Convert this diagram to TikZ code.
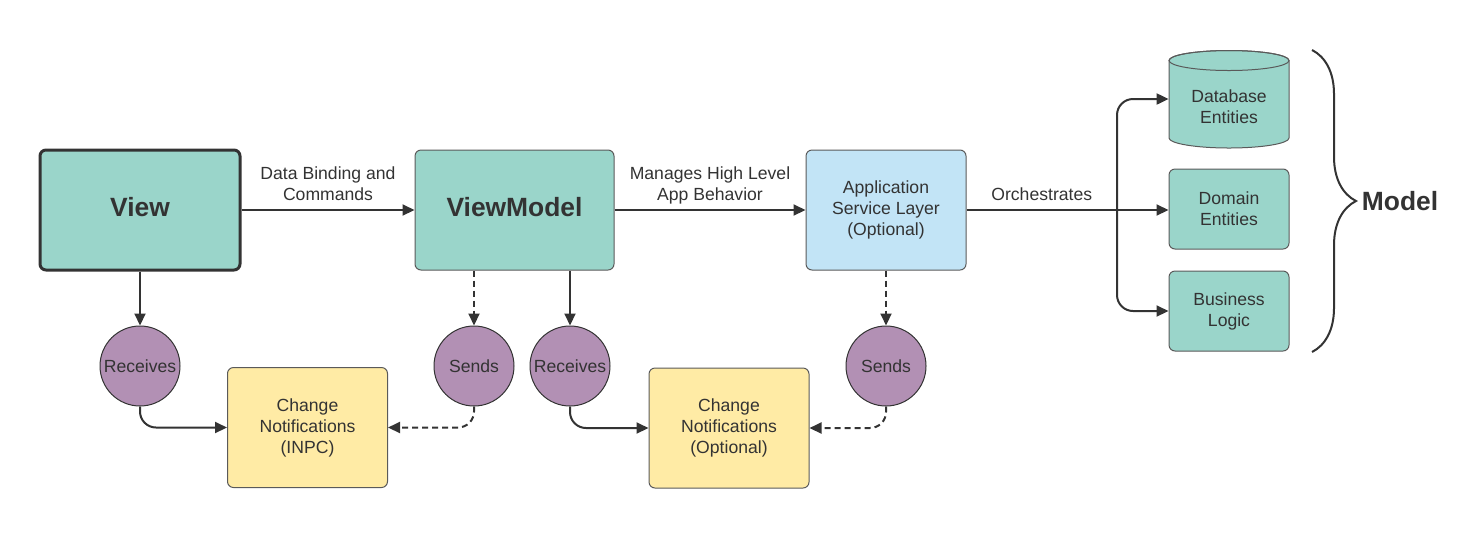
\documentclass[tikz,border=0pt]{standalone}
\usepackage{fontspec}
\setmainfont{Liberation Sans}
\usetikzlibrary{arrows.meta,decorations.pathreplacing}
\definecolor{mvvmTeal}{RGB}{154,213,202}
\definecolor{svcBlue}{RGB}{194,228,246}
\definecolor{noteYellow}{RGB}{255,235,165}
\definecolor{sigPurple}{RGB}{178,144,180}
\definecolor{inkGray}{RGB}{51,51,51}
\definecolor{edgeGray}{RGB}{90,90,90}

\begin{document}
\begin{tikzpicture}
[
    x=0.5pt, y=-0.5pt,
    txt/.style={font=\fontsize{8.8}{10.5}\selectfont, text=inkGray, align=center},
    big/.style={font=\fontsize{13.2}{15}\selectfont\bfseries, text=inkGray},
    viewbox/.style={big, text depth=3.5pt, draw=inkGray, line width=1.5pt, fill=mvvmTeal, rounded corners=3pt, minimum width=100pt, minimum height=60pt},
    vmbox/.style={big, text depth=3.5pt, draw=edgeGray, line width=0.5pt, fill=mvvmTeal, rounded corners=3pt, minimum width=99.5pt, minimum height=60pt},
    svcbox/.style={txt, draw=edgeGray, line width=0.5pt, fill=svcBlue, rounded corners=3pt, minimum width=80pt, minimum height=60pt},
    notebox/.style={txt, draw=edgeGray, line width=0.5pt, fill=noteYellow, rounded corners=3pt, minimum width=80pt, minimum height=60pt},
    entbox/.style={txt, draw=edgeGray, line width=0.5pt, fill=mvvmTeal, rounded corners=3pt, minimum width=60pt, minimum height=40pt},
    circ/.style={txt, circle, draw=inkGray, line width=0.5pt, fill=sigPurple, minimum size=40pt, inner sep=0pt},
    lbl/.style={txt, above=4.5pt, inner sep=0pt, text depth=0pt},
    arr/.style={draw=inkGray, line width=1pt, -{Triangle[length=6pt,width=5.5pt]}},
    darr/.style={arr, dash pattern=on 3pt off 2pt},
    brc/.style={draw=inkGray, line width=1pt, decorate, decoration={brace, amplitude=22pt}},
]
\useasboundingbox (0,0) rectangle (1476,537);

\node [viewbox] (view) at (140,210) {View};
\node [vmbox] (vm) at (514.5,210) {ViewModel};
\node [svcbox] (asl) at (886,210) {Application\\Service Layer\\(Optional)};

\node [circ] (rcv1) at (140,366) {Receives};
\node [circ] (snd1) at (474,366) {Sends};
\node [circ] (rcv2) at (570,366) {Receives};
\node [circ] (snd2) at (886,366) {Sends};

\node [notebox] (cn1) at (307.5,427.5) {Change\\Notifications\\(INPC)};
\node [notebox] (cn2) at (729,428) {Change\\Notifications\\(Optional)};

\node [minimum width=60pt, minimum height=49pt, inner sep=0pt] (db) at (1229,99) {};
\filldraw [fill=mvvmTeal, draw=edgeGray, line width=0.5pt]
    (1169,60.5) -- (1169,138) arc [start angle=180, end angle=360, x radius=30pt, y radius=5pt]
    -- (1289,60.5) arc [start angle=0, end angle=180, x radius=30pt, y radius=5pt] -- cycle;
\draw [draw=edgeGray, line width=0.5pt] (1229,60.5) ellipse [x radius=30pt, y radius=5pt];
\node [txt] (dbtxt) at (1229,107) {Database\\Entities};
\node [entbox] (dom) at (1229,209) {Domain\\Entities};
\node [entbox] (biz) at (1229,311) {Business\\Logic};

\coordinate (br) at (1117,210);

\draw [arr] (view) -- node[lbl]{Data Binding and\\Commands} (vm);
\draw [arr] (vm) -- node[lbl]{Manages High Level\\App Behavior} (asl);
\draw [arr] (asl) -- node[lbl]{Orchestrates} (br) -- (dom.west |- br);
\draw [arr, rounded corners=8pt] (br) |- (db.west);
\draw [arr, rounded corners=8pt] (br) |- (biz);

\draw [arr] (view) -- (rcv1);
\draw [darr] (vm.south -| snd1) -- (snd1);
\draw [arr] (vm.south -| rcv2) -- (rcv2);
\draw [darr] (asl) -- (snd2);

\draw [arr, rounded corners=8pt] (rcv1.south) |- (cn1.west);
\draw [darr, rounded corners=8pt] (snd1.south) |- (cn1.east);
\draw [arr, rounded corners=8pt] (rcv2.south) |- (cn2.west);
\draw [darr, rounded corners=8pt] (snd2.south) |- (cn2.east);

\draw [brc] (1312,50) -- (1312,352);
\node [big] (model) at (1400,201) {Model};
\end{tikzpicture}
\end{document}
